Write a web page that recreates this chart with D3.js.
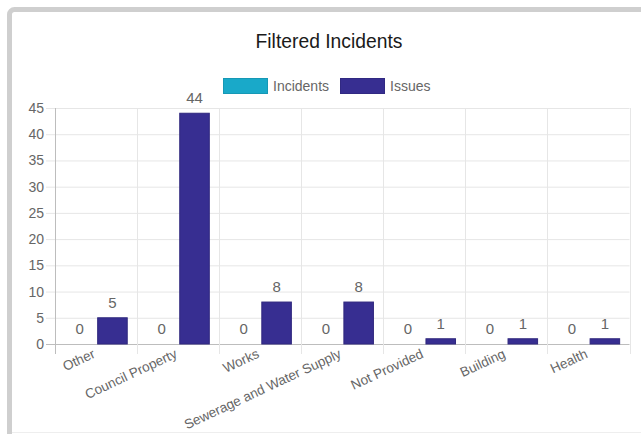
<!DOCTYPE html>
<html>
<head>
<meta charset="utf-8">
<script src="https://cdn.jsdelivr.net/npm/d3@7"></script>
<style>
  body { margin: 0; background: #fff; }
  svg text { font-family: "Liberation Sans Narrow", "Arial Narrow", "Liberation Sans", sans-serif; }
</style>
</head>
<body>
<svg id="chart" width="641" height="434"></svg>
<script>
// chart data
const categories = ["Other", "Council Property", "Works", "Sewerage and Water Supply", "Not Provided", "Building", "Health"];
const seriesNames = ["Incidents", "Issues"];
const incidents = [0, 0, 0, 0, 0, 0, 0];
const issues = [5, 44, 8, 8, 1, 1, 1];
const yTicks = [0, 5, 10, 15, 20, 25, 30, 35, 40, 45];
const colors = ["#19a9c9", "#372e91"];

const svg = d3.select("#chart");
const plot = { left: 55, right: 629.5, top: 108, bottom: 344 };

// frame around the chart
svg.append("rect")
    .attr("x", 9.5).attr("y", 9.5)
    .attr("width", 700).attr("height", 500)
    .attr("rx", 5)
    .attr("fill", "none")
    .attr("stroke", "#cfcfcf")
    .attr("stroke-width", 5);
svg.append("line")
    .attr("x1", 12).attr("x2", 641)
    .attr("y1", 432.5).attr("y2", 432.5)
    .attr("stroke", "#eeeeee");

// title
svg.append("text")
    .attr("transform", "translate(329,48) scale(0.92,1)")
    .attr("text-anchor", "middle")
    .attr("font-size", 21)
    .attr("fill", "#1a1a1a")
    .text("Filtered Incidents");

// legend
const legend = [{ name: seriesNames[0], x: 223, color: colors[0] }, { name: seriesNames[1], x: 340, color: colors[1] }];
legend.forEach(l => {
    svg.append("rect")
        .attr("x", l.x + 0.5).attr("y", 78.5)
        .attr("width", 44).attr("height", 15)
        .attr("fill", l.color)
        .attr("stroke", d3.color(l.color).darker(0.3))
        .attr("stroke-width", 1);
    svg.append("text")
        .attr("x", l.x + 50).attr("y", 91)
        .attr("font-size", 14)
        .attr("fill", "#666")
        .text(l.name);
});

const x0 = d3.scaleBand().domain(categories).range([plot.left, plot.right]);
const groupW = x0.bandwidth() * 0.8;
const x1 = d3.scaleBand().domain(seriesNames).range([0, groupW]);
const barW = x1.bandwidth() * 0.9;
const y = d3.scaleLinear().domain([0, 45]).range([plot.bottom, plot.top]);

// horizontal grid + y ticks
const yAxis = d3.axisLeft(y).tickValues(yTicks).tickSize(-(plot.right - plot.left)).tickPadding(12);
const gy = svg.append("g").attr("transform", `translate(${plot.left},0)`).call(yAxis);
gy.select(".domain").remove();
gy.selectAll(".tick line")
    .attr("x1", -9)
    .attr("stroke", d => d === 0 ? "#bdbdbd" : "#e6e6e6");
gy.selectAll(".tick text").attr("font-size", 14).attr("fill", "#666").attr("x", -11);

// vertical grid lines at category boundaries
const bounds = categories.map(c => x0(c)).concat([plot.right]);
svg.append("g").selectAll("line")
    .data(bounds)
    .join("line")
    .attr("x1", d => Math.round(d) + 0.5).attr("x2", d => Math.round(d) + 0.5)
    .attr("y1", plot.top).attr("y2", plot.bottom + 10)
    .attr("stroke", (d, i) => i === 0 ? "#bdbdbd" : "#e6e6e6");

// bars
const rows = categories.map((c, i) => ({ cat: c, values: [incidents[i], issues[i]] }));
const groups = svg.append("g").selectAll("g")
    .data(rows)
    .join("g")
    .attr("transform", d => `translate(${x0(d.cat) + (x0.bandwidth() - groupW) / 2},0)`);

groups.selectAll("rect")
    .data(d => d.values.map((v, j) => ({ s: seriesNames[j], v, j })))
    .join("rect")
    .attr("x", d => x1(d.s) + (x1.bandwidth() - barW) / 2)
    .attr("y", d => y(d.v))
    .attr("width", barW)
    .attr("height", d => y(0) - y(d.v))
    .attr("fill", d => colors[d.j])
    .attr("stroke", d => d.v > 0 ? d3.color(colors[d.j]).darker(0.4) : "none")
    .attr("stroke-width", 1);

// value labels
groups.selectAll("text")
    .data(d => d.values.map((v, j) => ({ s: seriesNames[j], v, j })))
    .join("text")
    .attr("x", d => x1(d.s) + x1.bandwidth() / 2)
    .attr("y", d => y(d.v) - 10)
    .attr("text-anchor", "middle")
    .attr("font-size", 15)
    .attr("fill", "#666")
    .text(d => d.v);

// rotated category labels
svg.append("g").selectAll("text")
    .data(categories)
    .join("text")
    .attr("transform", d => `translate(${x0(d) + x0.bandwidth() / 2},${plot.bottom + 13}) rotate(-25)`)
    .attr("text-anchor", "end")
    .attr("font-size", 13.5)
    .attr("fill", "#666")
    .text(d => d);
</script>
</body>
</html>
